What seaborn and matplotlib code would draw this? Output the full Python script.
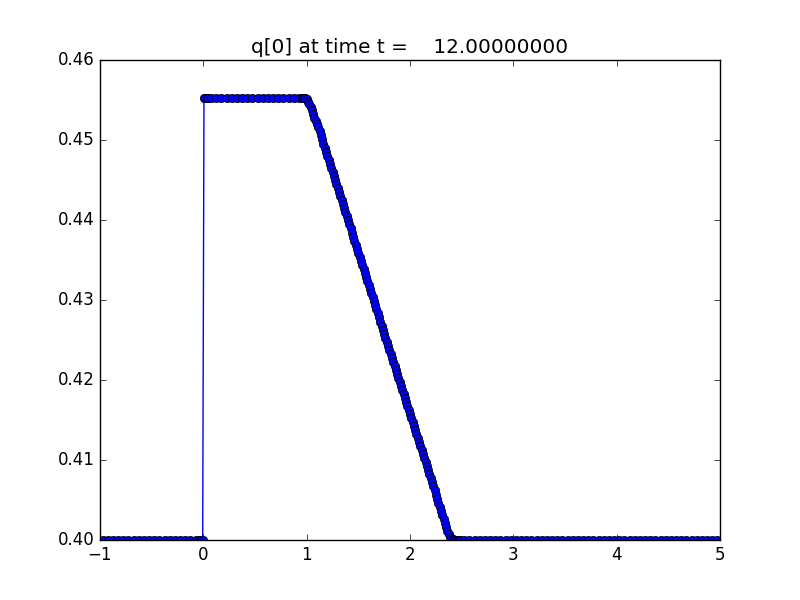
import matplotlib
matplotlib.use("Agg")
import matplotlib.pyplot as plt
import seaborn as sns
import numpy as np
import pandas as pd

plt.style.use("classic")
plt.rcParams["figure.facecolor"] = "white"
plt.rcParams["savefig.facecolor"] = "white"

# ---- data ----
# coarse level, left state
x_left = [-0.975, -0.925, -0.875, -0.825, -0.775, -0.725, -0.675, -0.625, -0.575, -0.525,
          -0.475, -0.425, -0.375, -0.325, -0.275, -0.225, -0.175, -0.125, -0.075]
y_left = [0.4000] * len(x_left)

# fine level around the jump at x = 0
x_jump = [-0.04375, -0.03125, -0.01875, -0.00625, 0.00625, 0.01875, 0.03125, 0.04375]
y_jump = [0.4000, 0.4000, 0.4000, 0.4000, 0.4553, 0.4553, 0.4553, 0.4553]

# coarse level, plateau
x_top = [0.075, 0.125, 0.175, 0.225, 0.275, 0.325, 0.375, 0.425, 0.475, 0.525,
         0.575, 0.625, 0.675, 0.725, 0.775, 0.825, 0.875, 0.925]
y_top = [0.4553] * len(x_top)

# fine level, rarefaction fan
x_fan = [0.95, 0.9625, 0.975, 0.9875, 1.0, 1.0125, 1.025, 1.0375, 1.05, 1.0625,
         1.075, 1.0875, 1.1, 1.1125, 1.125, 1.1375, 1.15, 1.1625, 1.175, 1.1875,
         1.2, 1.2125, 1.225, 1.2375, 1.25, 1.2625, 1.275, 1.2875, 1.3, 1.3125,
         1.325, 1.3375, 1.35, 1.3625, 1.375, 1.3875, 1.4, 1.4125, 1.425, 1.4375,
         1.45, 1.4625, 1.475, 1.4875, 1.5, 1.5125, 1.525, 1.5375, 1.55, 1.5625,
         1.575, 1.5875, 1.6, 1.6125, 1.625, 1.6375, 1.65, 1.6625, 1.675, 1.6875,
         1.7, 1.7125, 1.725, 1.7375, 1.75, 1.7625, 1.775, 1.7875, 1.8, 1.8125,
         1.825, 1.8375, 1.85, 1.8625, 1.875, 1.8875, 1.9, 1.9125, 1.925, 1.9375,
         1.95, 1.9625, 1.975, 1.9875, 2.0, 2.0125, 2.025, 2.0375, 2.05, 2.0625,
         2.075, 2.0875, 2.1, 2.1125, 2.125, 2.1375, 2.15, 2.1625, 2.175, 2.1875,
         2.2, 2.2125, 2.225, 2.2375, 2.25, 2.2625, 2.275, 2.2875, 2.3, 2.3125,
         2.325, 2.3375, 2.35, 2.3625, 2.375, 2.3875, 2.4, 2.4125, 2.425, 2.4375,
         2.45, 2.4625, 2.475, 2.4875]
y_fan = [0.4553, 0.4553, 0.4553, 0.4552, 0.4551, 0.4548, 0.4545, 0.4541, 0.4537, 0.4533,
         0.4528, 0.4524, 0.4520, 0.4516, 0.4511, 0.4506, 0.4501, 0.4495, 0.4490, 0.4485,
         0.4480, 0.4475, 0.4470, 0.4465, 0.4460, 0.4455, 0.4450, 0.4445, 0.4440, 0.4435,
         0.4430, 0.4425, 0.4420, 0.4415, 0.4410, 0.4405, 0.4400, 0.4395, 0.4390, 0.4384,
         0.4379, 0.4374, 0.4369, 0.4364, 0.4359, 0.4354, 0.4349, 0.4344, 0.4339, 0.4334,
         0.4329, 0.4324, 0.4319, 0.4314, 0.4309, 0.4304, 0.4299, 0.4294, 0.4289, 0.4284,
         0.4279, 0.4273, 0.4268, 0.4263, 0.4258, 0.4253, 0.4248, 0.4243, 0.4238, 0.4233,
         0.4228, 0.4223, 0.4218, 0.4213, 0.4208, 0.4203, 0.4198, 0.4193, 0.4188, 0.4183,
         0.4178, 0.4173, 0.4167, 0.4162, 0.4157, 0.4152, 0.4147, 0.4142, 0.4137, 0.4132,
         0.4127, 0.4122, 0.4117, 0.4112, 0.4107, 0.4102, 0.4097, 0.4092, 0.4087, 0.4082,
         0.4077, 0.4072, 0.4067, 0.4062, 0.4056, 0.4051, 0.4046, 0.4041, 0.4036, 0.4031,
         0.4026, 0.4021, 0.4016, 0.4011, 0.4007, 0.4004, 0.4002, 0.4001, 0.4000, 0.4000,
         0.4000, 0.4000, 0.4000, 0.4000]

# coarse level, right state
x_right = [2.525, 2.575, 2.625, 2.675, 2.725, 2.775, 2.825, 2.875, 2.925, 2.975,
           3.025, 3.075, 3.125, 3.175, 3.225, 3.275, 3.325, 3.375, 3.425, 3.475,
           3.525, 3.575, 3.625, 3.675, 3.725, 3.775, 3.825, 3.875, 3.925, 3.975,
           4.025, 4.075, 4.125, 4.175, 4.225, 4.275, 4.325, 4.375, 4.425, 4.475,
           4.525, 4.575, 4.625, 4.675, 4.725, 4.775, 4.825, 4.875, 4.925, 4.975]
y_right = [0.4000] * len(x_right)

title_text = "q[0] at time t =    12.00000000"

df = pd.DataFrame({
    "x": x_left + x_jump + x_top + x_fan + x_right,
    "q": y_left + y_jump + y_top + y_fan + y_right,
})

fig, ax = plt.subplots(figsize=(8, 6), dpi=100)
fig.subplots_adjust(left=0.125, right=0.9, bottom=0.1, top=0.9)

sns.lineplot(data=df, x="x", y="q", ax=ax, sort=True, estimator=None,
             color="blue", linewidth=1.0, marker="o", markersize=6,
             markerfacecolor="blue", markeredgecolor="black", markeredgewidth=0.5)

ax.set_xlim(-1, 5)
ax.set_ylim(0.40, 0.46)
ax.set_xticks([-1, 0, 1, 2, 3, 4, 5])
ax.set_yticks([0.40, 0.41, 0.42, 0.43, 0.44, 0.45, 0.46])
ax.set_xlabel("")
ax.set_ylabel("")
ax.set_title(title_text, fontsize=14.4)
ax.tick_params(labelsize=12)

fig.savefig("out.png", dpi=100)
